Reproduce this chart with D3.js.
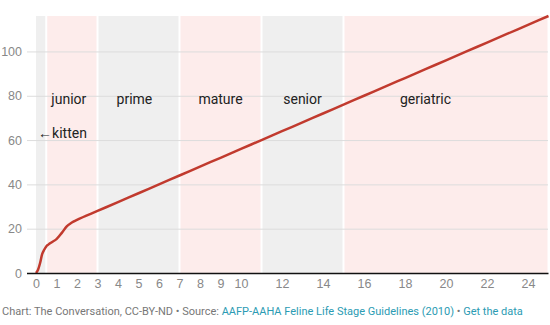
<!DOCTYPE html>
<html>
<head>
<meta charset="utf-8">
<script src="https://cdn.jsdelivr.net/npm/d3@7"></script>
<style>
  body { margin: 0; background: #fff; font-family: Roboto, "Noto Sans", sans-serif; }
  .grid line { stroke: #dcdcdc; stroke-width: 1; }
  .tick text { fill: #888; font-size: 12.5px; }
  .stage { fill: #222; font-size: 14px; }
  .foot { font-size: 11px; fill: #777; }
  .foot .lnk { fill: #2b9bb3; }
</style>
</head>
<body>
<script>
// cat age (years) -> human equivalent age
var catAge   = [0, 0.1, 0.2, 0.3, 0.4, 0.5, 0.6, 0.75, 1, 1.25, 1.5, 1.75, 2, 3, 4, 5, 6, 7, 8, 9, 10, 11, 12, 13, 14, 15, 16, 17, 18, 19, 20, 21, 22, 23, 24, 25];
var humanAge = [0, 1.5, 4.5, 8.5, 10.5, 12, 12.8, 13.8, 15.3, 18, 21, 22.8, 24, 28, 32, 36, 40, 44, 48, 52, 56, 60, 64, 68, 72, 76, 80, 84, 88, 92, 96, 100, 104, 108, 112, 116];

var stageNames  = ["kitten", "junior", "prime", "mature", "senior", "geriatric"];
var stageStart  = [0, 0.5, 3, 7, 11, 15];
var stageEnd    = [0.5, 3, 7, 11, 15, 25];
var stageFill   = ["#efefef", "#fdeceb", "#efefef", "#fdeceb", "#efefef", "#fdeceb"];
var labelAt     = [0.1, 1.6, 4.8, 9, 13, 19];

var xTicks = [0, 1, 2, 3, 4, 5, 6, 7, 8, 9, 10, 12, 14, 16, 18, 20, 22, 24];
var yTicks = [0, 20, 40, 60, 80, 100];

var width = 550, height = 325;
var svg = d3.select("body").append("svg")
    .attr("width", width)
    .attr("height", height);

var x = d3.scaleLinear().domain([0, 25]).range([36, 548.5]);
var y = d3.scaleLinear().domain([0, 116]).range([273, 16]);

//stage bands
svg.selectAll(".band")
    .data(stageNames)
    .enter()
    .append("rect")
    .attr("class", "band")
    .attr("x", function(d, i){ return x(stageStart[i]) + (i == 0 ? 0 : 1); })
    .attr("width", function(d, i){ return x(stageEnd[i]) - x(stageStart[i]) - (i == 0 ? 1 : 2); })
    .attr("y", y(116))
    .attr("height", y(0) - y(116))
    .style("fill", function(d, i){ return stageFill[i]; });

//gridlines + y labels
var yAxis = d3.axisLeft(y)
    .tickValues(yTicks)
    .tickSize(-(548 - 27))
    .tickPadding(5);
var gy = svg.append("g")
    .attr("class", "grid")
    .attr("transform", "translate(27,0)")
    .call(yAxis);
gy.select(".domain").remove();
gy.selectAll(".tick text").attr("x", -5);

//stage labels
svg.selectAll(".stage")
    .data(stageNames)
    .enter()
    .append("text")
    .attr("class", "stage")
    .attr("x", function(d, i){ return x(labelAt[i]); })
    .attr("y", function(d, i){ return i == 0 ? 138 : 104; })
    .attr("text-anchor", function(d, i){ return i == 0 ? "start" : "middle"; })
    .text(function(d, i){ return i == 0 ? "\u2190" + d : d; });

//age line
var line = d3.line()
    .x(function(d, i){ return x(catAge[i]); })
    .y(function(d){ return y(d); })
    .curve(d3.curveMonotoneX);

svg.append("path")
    .datum(humanAge)
    .attr("d", line)
    .style("fill", "none")
    .style("stroke", "#c13a2e")
    .style("stroke-width", 2.5);

//x axis
var xAxis = d3.axisBottom(x)
    .tickValues(xTicks)
    .tickSize(0)
    .tickPadding(6);
var gx = svg.append("g")
    .attr("class", "xaxis")
    .attr("transform", "translate(0," + y(0) + ")")
    .call(xAxis);
gx.select(".domain").remove();
gx.selectAll(".tick text").style("fill", "#888").style("font-size", "12.5px");
svg.append("line")
    .attr("x1", 27).attr("x2", 548.5)
    .attr("y1", y(0) + 0.5).attr("y2", y(0) + 0.5)
    .style("stroke", "#111")
    .style("stroke-width", 1.5);

//footer
var foot = svg.append("text")
    .attr("class", "foot")
    .attr("x", 2)
    .attr("y", 315);
foot.append("tspan").text("Chart: The Conversation, CC-BY-ND \u2022 Source: ");
foot.append("tspan").attr("class", "lnk").text("AAFP-AAHA Feline Life Stage Guidelines (2010)");
foot.append("tspan").text(" \u2022 ");
foot.append("tspan").attr("class", "lnk").text("Get the data");
</script>
</body>
</html>
